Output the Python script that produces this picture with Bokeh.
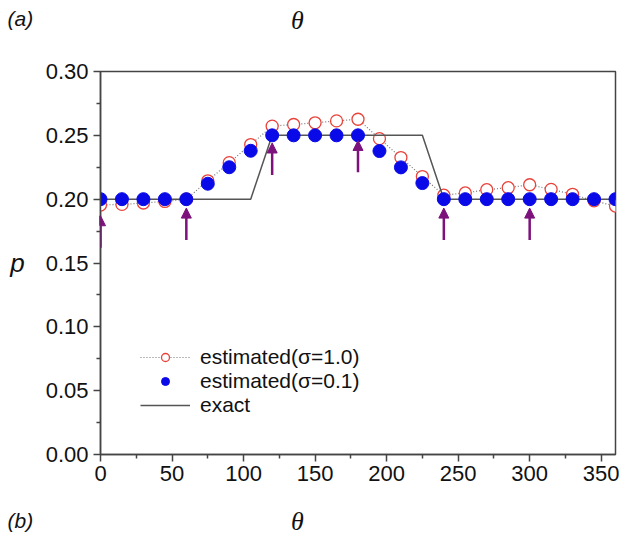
from bokeh.plotting import figure
from bokeh.layouts import column
from bokeh.models import (ColumnDataSource, Range1d, FixedTicker, PrintfTickFormatter,
                          Legend, LegendItem, Arrow, NormalHead)
from bokeh.core.properties import value
from bokeh.embed import file_html
from bokeh.resources import INLINE

# ---- data ----
theta = [0, 15, 30, 45, 60, 75, 90, 105, 120, 135, 150, 165, 180, 195, 210, 225,
         240, 255, 270, 285, 300, 315, 330, 345, 360]
p_sigma10 = [0.1954, 0.1959, 0.1970, 0.1982, 0.2000, 0.2144, 0.2286, 0.2428, 0.2572,
             0.2585, 0.2598, 0.2613, 0.2626, 0.2474, 0.2326, 0.2177, 0.2031, 0.2049,
             0.2074, 0.2090, 0.2113, 0.2077, 0.2038, 0.1987, 0.1946]
p_sigma01 = [0.2000, 0.2000, 0.2000, 0.2000, 0.2000, 0.2121, 0.2250, 0.2379, 0.2500,
             0.2500, 0.2500, 0.2500, 0.2500, 0.2377, 0.2249, 0.2126, 0.2000, 0.2000,
             0.2000, 0.2000, 0.2000, 0.2000, 0.2000, 0.2000, 0.2000]
exact_theta = [0, 105, 120, 225, 240, 360]
exact_p = [0.20, 0.20, 0.25, 0.25, 0.20, 0.20]
arrow_theta = [0, 60, 120, 180, 240, 300]
arrow_tail = [0.162, 0.168, 0.219, 0.221, 0.168, 0.168]
arrow_tip = [0.187, 0.193, 0.244, 0.246, 0.193, 0.193]
x_ticks = [0, 50, 100, 150, 200, 250, 300, 350]
x_minor = [25, 75, 125, 175, 225, 275, 325]
y_ticks = [0.00, 0.05, 0.10, 0.15, 0.20, 0.25, 0.30]
y_minor = [0.025, 0.075, 0.125, 0.175, 0.225, 0.275]
panel_letters = ["(a)", "(b)"]
x_title = "θ"
y_title = "p"

FONT = "Liberation Sans"
SERIF = "Liberation Serif"
AXC = "#444444"
TXT = "#111111"
W = 619
TOP_H, MAIN_H, BOT_H = 50, 444, 45


def no_align(f):
    try:
        f.frame_align = False
    except Exception:
        pass


def strip(height, y_top):
    """An axis-less strip whose data units equal pixels (y grows downward)."""
    f = figure(width=W, height=height, output_backend="svg", toolbar_location=None,
               x_range=Range1d(0, W), y_range=Range1d(y_top + height, y_top),
               min_border=0)
    f.axis.visible = False
    f.grid.visible = False
    f.outline_line_color = None
    f.background_fill_color = "white"
    f.border_fill_color = "white"
    no_align(f)
    return f


# ---- top strip: "(a)" and theta ----
top = strip(TOP_H, 0)
top.text(x=[7], y=[18], text=[panel_letters[0]], text_font=value(FONT), text_font_style="italic",
         text_font_size="21px", text_color=TXT, text_baseline="alphabetic")
top.text(x=[297], y=[20], text=[x_title], text_font=value(SERIF), text_font_style="italic",
         text_font_size="26px", text_color=TXT, text_align="center", text_baseline="alphabetic")

# ---- main plot ----
p = figure(width=W, height=MAIN_H, output_backend="svg", toolbar_location=None,
           x_range=Range1d(0, 360), y_range=Range1d(0, 0.30),
           min_border_left=100, min_border_right=4, min_border_top=21, min_border_bottom=40)
no_align(p)
p.xgrid.visible = False
p.ygrid.visible = False
p.outline_line_color = AXC
p.outline_line_width = 1.5
p.background_fill_color = "white"
p.border_fill_color = "white"

p.xaxis.ticker = FixedTicker(ticks=x_ticks, minor_ticks=x_minor)
p.yaxis.ticker = FixedTicker(ticks=y_ticks, minor_ticks=y_minor)
p.yaxis.formatter = PrintfTickFormatter(format="%.2f")
for ax in (p.xaxis[0], p.yaxis[0]):
    ax.axis_line_color = AXC
    ax.axis_line_width = 1.5
    ax.major_tick_line_color = AXC
    ax.major_tick_line_width = 1.5
    ax.minor_tick_line_color = AXC
    ax.minor_tick_line_width = 1.5
    ax.major_tick_in = 0
    ax.major_tick_out = 7
    ax.minor_tick_in = 0
    ax.minor_tick_out = 4
    ax.major_label_text_font = FONT
    ax.major_label_text_font_size = "22px"
    ax.major_label_text_color = TXT
p.yaxis.major_label_standoff = 5
p.xaxis.major_label_standoff = 4

yax = p.yaxis[0]
yax.axis_label = y_title
yax.axis_label_text_font = FONT
yax.axis_label_text_font_style = "italic"
yax.axis_label_text_font_size = "26px"
yax.axis_label_text_color = TXT
yax.axis_label_standoff = 18
try:
    yax.axis_label_orientation = "horizontal"
except Exception:
    pass

src = ColumnDataSource(dict(theta=theta, s10=p_sigma10, s01=p_sigma01))

r_dot = p.line("theta", "s10", source=src, line_color="#777777", line_width=1.2, line_dash="1 2")
r_red = p.scatter("theta", "s10", source=src, marker="circle", size=12,
                  fill_color="white", line_color="#e8423a", line_width=1.3)
r_exact = p.line(exact_theta, exact_p, line_color="#555555", line_width=1.5)
r_blue = p.scatter("theta", "s01", source=src, marker="circle", size=13,
                   fill_color="#0a0ae8", line_color="#0a0ae8")

asrc = ColumnDataSource(dict(x=arrow_theta, ys=arrow_tail, ye=arrow_tip))
p.add_layout(Arrow(end=NormalHead(size=10, fill_color="#7d127d", line_color="#7d127d"),
                   x_start="x", y_start="ys", x_end="x", y_end="ye", source=asrc,
                   line_color="#7d127d", line_width=2.5))

legend = Legend(items=[
    LegendItem(label="estimated(σ=1.0)", renderers=[r_dot, r_red]),
    LegendItem(label="estimated(σ=0.1)", renderers=[r_blue]),
    LegendItem(label="exact", renderers=[r_exact]),
], location=(40, 37))
legend.border_line_alpha = 0
legend.background_fill_alpha = 0
legend.padding = 0
legend.margin = 0
legend.spacing = 0
legend.glyph_width = 50
legend.glyph_height = 20
legend.label_height = 20
legend.label_standoff = 10
legend.label_text_font = FONT
legend.label_text_font_size = "21px"
legend.label_text_color = TXT
p.add_layout(legend)

# ---- bottom strip: "(b)" and theta ----
bot = strip(BOT_H, TOP_H + MAIN_H)
bot.text(x=[7], y=[520], text=[panel_letters[1]], text_font=value(FONT), text_font_style="italic",
         text_font_size="21px", text_color=TXT, text_baseline="alphabetic")
bot.text(x=[297], y=[521], text=[x_title], text_font=value(SERIF), text_font_style="italic",
         text_font_size="26px", text_color=TXT, text_align="center", text_baseline="alphabetic")

layout = column(top, p, bot, spacing=0)
open("out.html", "w").write(file_html(layout, INLINE))
